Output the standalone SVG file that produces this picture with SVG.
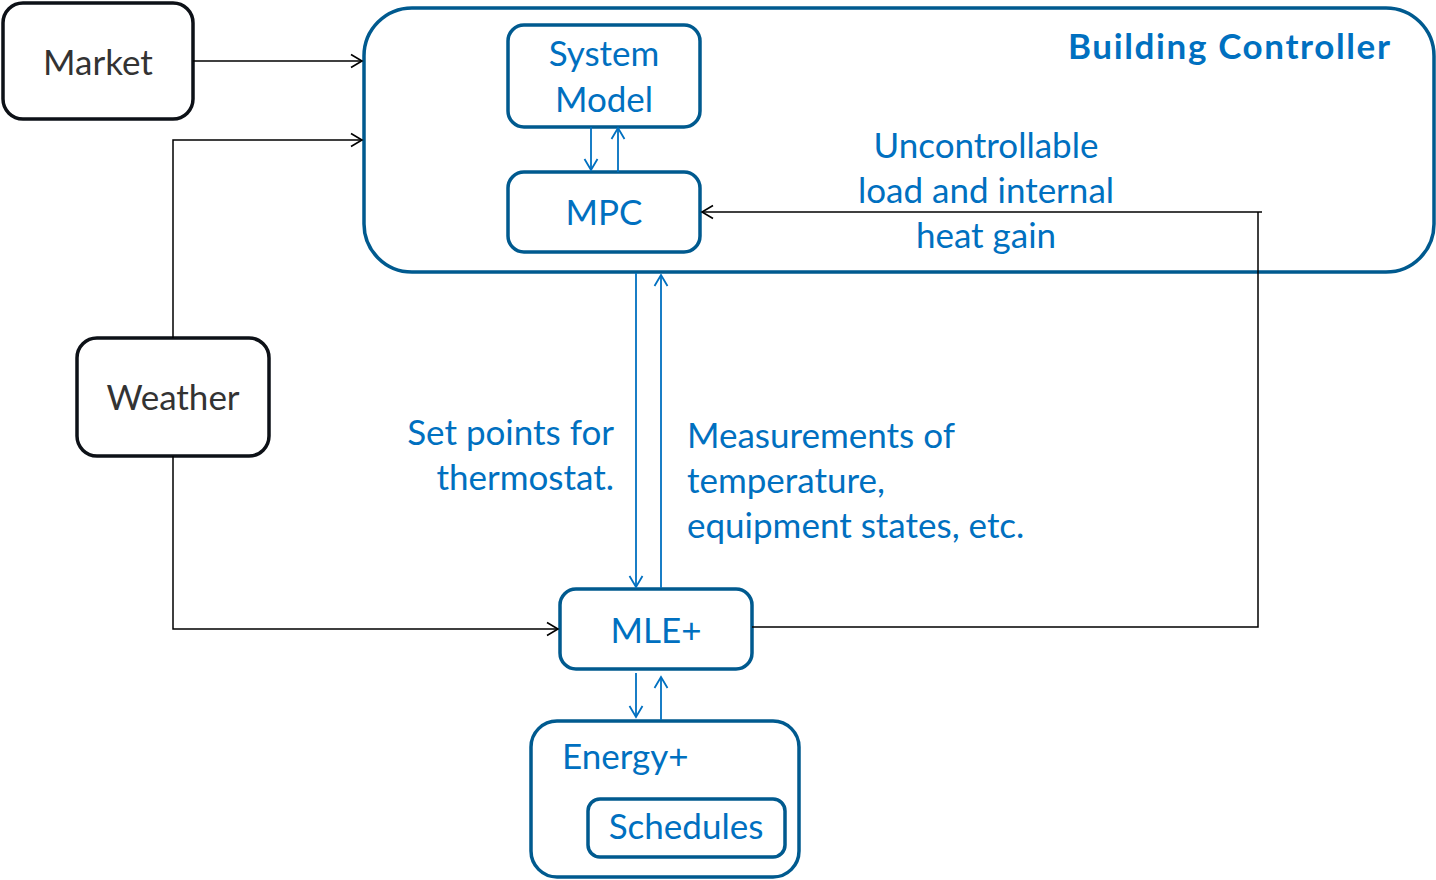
<svg xmlns="http://www.w3.org/2000/svg" width="1436" height="880" viewBox="0 0 1436 880">
<style>
.bk{fill:#fff;stroke:#0d1117;stroke-width:3.5}
.bl{fill:#fff;stroke:#005a8f;stroke-width:3.5}
.t{font-family:Lato,"Open Sans",sans-serif;font-size:35px;fill:#0070c0}
.tk{font-family:Lato,"Open Sans",sans-serif;font-size:35px;fill:#333}
.c{text-anchor:middle}
.r{text-anchor:end}
.lk{fill:none;stroke:#000;stroke-width:1.5}
.lb{fill:none;stroke:#0070c0;stroke-width:1.8}
</style>
<defs>
<marker id="ak" markerWidth="16" markerHeight="16" refX="13" refY="8" orient="auto" markerUnits="userSpaceOnUse"><path d="M2,1.5 L13,8 L2,14.5" fill="none" stroke="#000" stroke-width="1.6"/></marker>
<marker id="ab" markerWidth="16" markerHeight="16" refX="13" refY="8" orient="auto" markerUnits="userSpaceOnUse"><path d="M2,1.5 L13,8 L2,14.5" fill="none" stroke="#0070c0" stroke-width="1.8"/></marker>
</defs>
<g id="building-controller">
<rect class="bl" x="364" y="8" width="1070" height="264" rx="48"/>
<text class="t" x="1068" y="59" font-weight="bold" font-size="39" textLength="322" lengthAdjust="spacing">Building Controller</text>
</g>
<g id="market">
<rect class="bk" x="3" y="3" width="190" height="116" rx="20"/>
<text class="tk c" x="98" y="75">Market</text>
</g>
<g id="weather">
<rect class="bk" x="77" y="338" width="192" height="118" rx="20"/>
<text class="tk c" x="173" y="410">Weather</text>
</g>
<g id="system-model">
<rect class="bl" x="508" y="25" width="192" height="102" rx="16"/>
<text class="t c" x="604" y="66">System</text>
<text class="t c" x="604" y="112">Model</text>
</g>
<g id="mpc">
<rect class="bl" x="508" y="172" width="192" height="80" rx="16"/>
<text class="t c" x="604" y="225">MPC</text>
</g>
<g id="mle">
<rect class="bl" x="560" y="589" width="192" height="80" rx="16"/>
<text class="t c" x="656" y="643">MLE+</text>
</g>
<g id="energy">
<rect class="bl" x="531" y="721" width="268" height="156" rx="26"/>
<text class="t" x="562" y="769">Energy+</text>
</g>
<g id="schedules">
<rect class="bl" x="588" y="799" width="197" height="58" rx="12"/>
<text class="t c" x="686" y="839">Schedules</text>
</g>
<g id="connectors">
<path class="lk" d="M193,61 H362" marker-end="url(#ak)"/>
<path class="lk" d="M173,338 V140 H362" marker-end="url(#ak)"/>
<path class="lk" d="M173,456 V629 H558" marker-end="url(#ak)"/>
<path class="lk" d="M752,627 H1258 V212"/>
<path class="lk" d="M1262,212 H702" marker-end="url(#ak)"/>
<path class="lb" d="M591,127 V170" marker-end="url(#ab)"/>
<path class="lb" d="M618,172 V128" marker-end="url(#ab)"/>
<path class="lb" d="M636,273 V587" marker-end="url(#ab)"/>
<path class="lb" d="M661,588 V275" marker-end="url(#ab)"/>
<path class="lb" d="M636,673 V717" marker-end="url(#ab)"/>
<path class="lb" d="M661,720 V677" marker-end="url(#ab)"/>
</g>
<g id="labels">
<text class="t c" x="986" y="158">Uncontrollable</text>
<text class="t c" x="986" y="203">load and internal</text>
<text class="t c" x="986" y="248">heat gain</text>
<text class="t r" x="614" y="445">Set points for</text>
<text class="t r" x="614" y="490">thermostat.</text>
<text class="t" x="687" y="448">Measurements of</text>
<text class="t" x="687" y="493">temperature,</text>
<text class="t" x="687" y="538">equipment states, etc.</text>
</g>
</svg>
